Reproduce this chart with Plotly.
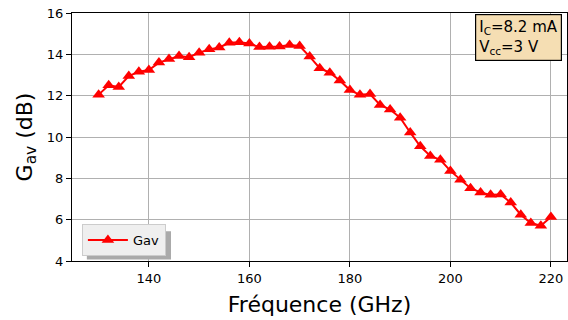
import plotly.graph_objects as go

freq = [130, 132, 134, 136, 138, 140, 142, 144, 146, 148, 150, 152, 154, 156, 158, 160,
        162, 164, 166, 168, 170, 172, 174, 176, 178, 180, 182, 184, 186, 188, 190, 192,
        194, 196, 198, 200, 202, 204, 206, 208, 210, 212, 214, 216, 218, 220]
gav = [12.05, 12.5, 12.42, 12.95, 13.16, 13.24, 13.6, 13.77, 13.92, 13.86, 14.08, 14.24,
       14.33, 14.56, 14.58, 14.52, 14.35, 14.37, 14.38, 14.45, 14.4, 13.89, 13.33, 13.11,
       12.73, 12.27, 12.04, 12.08, 11.55, 11.33, 10.93, 10.22, 9.55, 9.08, 8.9, 8.36,
       7.93, 7.52, 7.32, 7.2, 7.22, 6.83, 6.24, 5.84, 5.71, 6.13]
xticks = [140, 160, 180, 200, 220]
yticks = [4, 6, 8, 10, 12, 14, 16]

font = "DejaVu Sans"
fig = go.Figure()
fig.add_trace(go.Scatter(
    x=freq, y=gav, mode="lines+markers", name="Gav",
    line=dict(color="#ff0000", width=2),
    marker=dict(symbol="triangle-up", size=11, color="#ff0000"),
))

fig.update_layout(
    width=568, height=320,
    margin=dict(l=72, r=1, t=13, b=59),
    paper_bgcolor="white", plot_bgcolor="white",
    font=dict(family=font, size=13, color="black"),
    xaxis=dict(
        range=[124.7, 223.2], tickvals=xticks, ticks="outside", ticklen=5, tickcolor="black",
        showgrid=True, gridcolor="#b0b0b0", gridwidth=1, zeroline=False,
        showline=True, linecolor="black", linewidth=1, mirror=True,
        title=dict(text="Fréquence (GHz)", font=dict(size=22, family=font), standoff=12),
    ),
    yaxis=dict(
        range=[4, 16], tickvals=yticks, ticks="outside", ticklen=5, tickcolor="black",
        showgrid=True, gridcolor="#b0b0b0", gridwidth=1, zeroline=False,
        showline=True, linecolor="black", linewidth=1, mirror=True,
        title=dict(text="G<sub>av</sub> (dB)", font=dict(size=22, family=font), standoff=8),
    ),
    showlegend=True,
    legend=dict(
        x=0.02, y=0.02, xanchor="left", yanchor="bottom",
        bgcolor="#efefef", bordercolor="#cccccc", borderwidth=1,
        font=dict(size=13, family=font), itemwidth=40,
    ),
    annotations=[dict(
        xref="paper", yref="paper", x=0.99, y=0.997, xanchor="right", yanchor="top",
        text="I<sub>C</sub>=8.2 mA<br>V<sub>cc</sub>=3 V", showarrow=False, align="left",
        bgcolor="#f5deb3", bordercolor="black", borderwidth=1.2, borderpad=3,
        font=dict(size=15, family=font),
    )],
    shapes=[dict(
        type="rect", xref="paper", yref="paper", x0=0.03, x1=0.2, y0=0.006, y1=0.12,
        fillcolor="#aaaaaa", line=dict(width=0), layer="above",
    )],
)
fig.write_html("out.html", config={"displayModeBar": False},
               post_script="document.body.style.margin='0';")
